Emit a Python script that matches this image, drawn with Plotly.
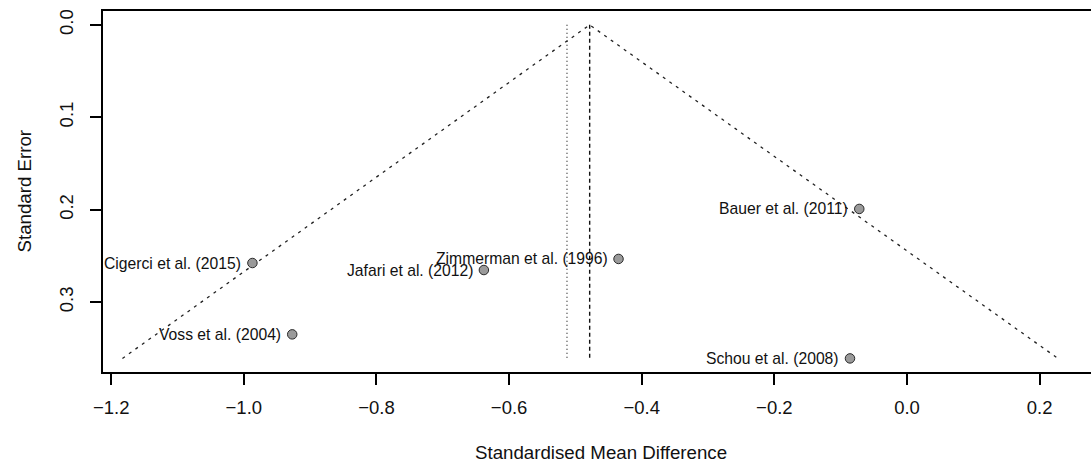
import plotly.graph_objects as go

# ---- data ----
studies = ["Cigerci et al. (2015)", "Voss et al. (2004)", "Jafari et al. (2012)",
           "Zimmerman et al. (1996)", "Bauer et al. (2011)", "Schou et al. (2008)"]
smd = [-0.987, -0.927, -0.638, -0.435, -0.072, -0.086]
se = [0.2576, 0.3348, 0.2652, 0.2532, 0.1991, 0.3608]

estimate = -0.4785        # dashed reference line (funnel apex)
alt_estimate = -0.5127    # dotted reference line
funnel_x = [-1.183, -0.4785, 0.2275]
funnel_y = [0.3608, 0.0, 0.3608]
ref_top = 0.0
ref_bottom = 0.3608

x_ticks = [-1.2, -1.0, -0.8, -0.6, -0.4, -0.2, 0.0, 0.2]
y_ticks = [0.0, 0.1, 0.2, 0.3]
x_title = "Standardised Mean Difference"
y_title = "Standard Error"

FONT = "Liberation Sans, Arial, sans-serif"

fig = go.Figure()

# funnel
fig.add_trace(go.Scatter(x=funnel_x, y=funnel_y, mode="lines",
                         line=dict(color="#222222", width=1.3, dash="3px,5px"),
                         hoverinfo="skip", showlegend=False))
# reference lines
fig.add_trace(go.Scatter(x=[alt_estimate, alt_estimate], y=[ref_top, ref_bottom], mode="lines",
                         line=dict(color="#222222", width=1.2, dash="1px,3px"),
                         hoverinfo="skip", showlegend=False))
fig.add_trace(go.Scatter(x=[estimate, estimate], y=[ref_top, ref_bottom], mode="lines",
                         line=dict(color="#111111", width=1.4, dash="4px,3px"),
                         hoverinfo="skip", showlegend=False))
# studies
fig.add_trace(go.Scatter(x=smd, y=se, mode="markers",
                         marker=dict(size=9.5, color="#9a9a9a",
                                     line=dict(color="#2a2a2a", width=1)),
                         text=studies, showlegend=False))

for name, xv, yv in zip(studies, smd, se):
    fig.add_annotation(x=xv, y=yv, xref="x", yref="y", text=name, showarrow=False,
                       xanchor="right", yanchor="middle", xshift=-9,
                       font=dict(family=FONT, size=15.7, color="#111111"))

fig.add_annotation(x=(601 - 103) / 988, y=-(452 - 372) / 361, xref="paper", yref="paper",
                   text=x_title, showarrow=False, xanchor="center", yanchor="middle",
                   font=dict(family=FONT, size=18.7, color="#111111"))
fig.add_annotation(x=(24 - 103) / 988, y=0.5, xref="paper", yref="paper",
                   text=y_title, showarrow=False, textangle=-90,
                   xanchor="center", yanchor="middle",
                   font=dict(family=FONT, size=18.7, color="#111111"))

fig.update_layout(
    width=1091, height=462,
    margin=dict(l=103, r=0, t=11, b=90),
    paper_bgcolor="white", plot_bgcolor="white",
    font=dict(family=FONT, size=18.5, color="#111111"),
)
fig.update_xaxes(range=[-1.2123, 0.2774], tickvals=x_ticks, tickformat=".1f",
                 showgrid=False, zeroline=False, showline=True, mirror=True,
                 linecolor="black", linewidth=1.5, ticks="outside", ticklen=11,
                 tickwidth=1.5, tickcolor="black", ticklabelstandoff=7)
fig.update_yaxes(range=[0.3755, -0.0150], tickvals=y_ticks, tickformat=".1f",
                 showgrid=False, zeroline=False, showline=True, mirror=False,
                 linecolor="black", linewidth=1.5, ticks="outside", ticklen=11,
                 tickwidth=1.5, tickcolor="black", tickangle=-90, ticklabelstandoff=10)

fig.write_html("out.html")
